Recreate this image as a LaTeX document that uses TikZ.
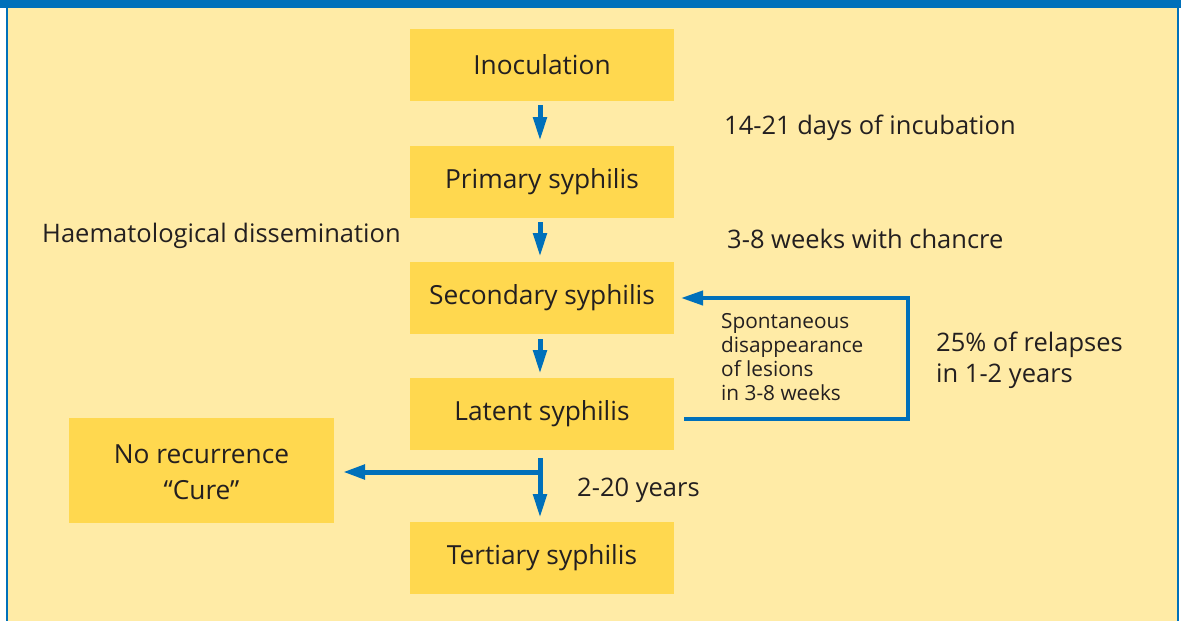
\documentclass[tikz,border=0pt]{standalone}
\usepackage{fontspec}
\setmainfont{Open Sans}
\usetikzlibrary{arrows.meta}
\definecolor{cream}{HTML}{FFEBA6}
\definecolor{boxy}{HTML}{FFD84F}
\definecolor{fblue}{HTML}{0070BA}
\definecolor{txt}{HTML}{231F20}
\begin{document}
\begin{tikzpicture}[x=1pt,y=-1pt,
  stagebox/.style={fill=boxy,minimum width=264pt,minimum height=72pt,inner sep=0pt,font=\fontsize{26.3}{36}\selectfont,text=txt},
  lbl/.style={font=\fontsize{25.5}{31}\selectfont,text=txt,inner sep=0pt,anchor=west,align=left},
  small/.style={font=\fontsize{20.8}{24}\selectfont,text=txt,inner sep=0pt,anchor=north west,align=left},
  flow/.style={draw=fblue,line width=5pt,-{Triangle[width=13pt,length=24pt]}},
  loop/.style={draw=fblue,line width=4pt,-{Triangle[width=14pt,length=22pt]}}]
\useasboundingbox (0,0) rectangle (1181,621);
\fill[white] (0,0) rectangle (1181,621);
\fill[cream] (7,8) rectangle (1177,621);
\fill[fblue] (0,0) rectangle (1181,8);
\fill[fblue] (6,8) rectangle (7.5,621);
\fill[fblue] (1177,8) rectangle (1179,621);
\node[stagebox] (ino) at (542,65) {Inoculation};
\node[stagebox] (pri) at (542,181.5) {Primary syphilis};
\node[stagebox] (sec) at (542,298) {Secondary syphilis};
\node[stagebox] (lat) at (542,414) {Latent syphilis};
\node[stagebox] (ter) at (542,558) {Tertiary syphilis};
\node[fill=boxy,minimum width=265pt,minimum height=105pt,inner sep=0pt] (cure) at (201.5,470.5) {};
\node[font=\fontsize{26.3}{36}\selectfont,text=txt,align=center,inner sep=0pt] (curetxt) at (201.5,472.5) {No recurrence\\“Cure”};
\coordinate (a1s) at (540,105); \coordinate (a1e) at (540,141);
\coordinate (a2s) at (540,222); \coordinate (a2e) at (540,257);
\coordinate (a3s) at (540,339); \coordinate (a3e) at (540,374);
\draw[flow] (a1s) -- (a1e);
\draw[flow] (a2s) -- (a2e);
\draw[flow] (a3s) -- (a3e);
\coordinate (tj) at (540,458);
\coordinate (tend) at (540,518);
\coordinate (tb) at (540,472);
\coordinate (cend) at (343,472);
\draw[flow] (tj) -- (tend);
\draw[loop,line width=5pt] (tb) -- (cend);
\coordinate (lr) at (684,419);
\coordinate (cr) at (908,419);
\coordinate (cu) at (908,298);
\coordinate (ce) at (681,298);
\draw[loop] (lr) -- (cr) -- (cu) -- (ce);
\node[lbl] (t1) at (724,128) {14-21 days of incubation};
\node[lbl] (t2) at (42,236) {Haematological dissemination};
\node[lbl] (t3) at (727,239) {3-8 weeks with chancre};
\node[small] (t4) at (721,313) {Spontaneous\\disappearance\\of lesions\\in 3-8 weeks};
\node[lbl,anchor=north west] (t5) at (936,332) {25\% of relapses\\in 1-2 years};
\node[lbl] (t6) at (577,490) {2-20 years};
\end{tikzpicture}
\end{document}
